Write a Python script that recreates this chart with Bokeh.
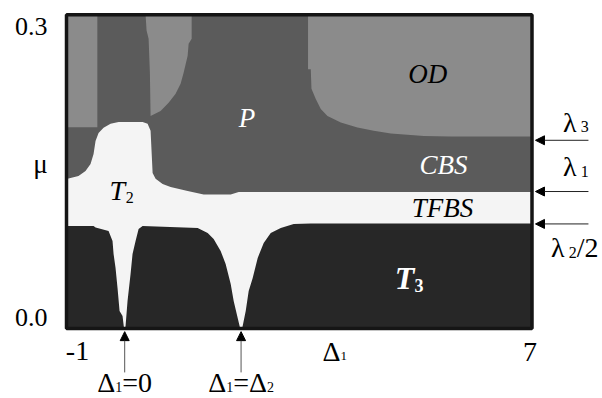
from bokeh.plotting import figure
from bokeh.models import Label, Arrow, NormalHead, Range1d
from bokeh.embed import file_html
from bokeh.resources import INLINE

# ---- data ----
X_MIN, X_MAX = -1.0, 7.0
MU_MIN, MU_MAX = 0.0, 0.3
DELTA_2 = 2.0
LAMBDA_3 = 0.18
LAMBDA_1 = 0.131
LAMBDA_2_HALF = 0.1

# upper edge of the T3 region
t3_delta = [-1.0, -0.535, -0.50, -0.277, -0.209, -0.191, -0.157, -0.123, -0.088, -0.037,
            -0.011, 0.006, 0.015, 0.049, 0.101, 0.135, 0.187, 0.239, 0.308, 1.254, 1.426,
            1.529, 1.649, 1.735, 1.822, 1.873, 1.942, 1.985, 2.019, 2.08, 2.131, 2.2, 2.286,
            2.389, 2.51, 2.682, 2.905, 3.198, 7.0]
t3_mu = [0.098, 0.098, 0.0965, 0.0933, 0.0837, 0.0713, 0.0579, 0.0388, 0.0167, 0.012,
         0.0, 0.0, 0.0024, 0.0263, 0.0522, 0.0713, 0.0837, 0.0952, 0.098, 0.0962, 0.0914,
         0.0856, 0.0742, 0.0617, 0.0426, 0.0263, 0.010, 0.0, 0.0, 0.0167, 0.0359, 0.0483, 0.0675,
         0.0818, 0.0914, 0.0962, 0.100, 0.1005, 0.1003]

# upper edge of the T2 / TFBS region
light_delta = [-1.0, -0.794, -0.673, -0.587, -0.535, -0.501, -0.449, -0.363, -0.243, -0.105,
               0.308, 0.394, 0.445, 0.48, 0.531, 0.652, 0.789, 1.082, 1.357, 1.822, 1.959, 7.0]
light_mu = [0.143, 0.1459, 0.1507, 0.1574, 0.167, 0.1794, 0.187, 0.1919, 0.1957, 0.1976,
            0.1976, 0.1957, 0.189, 0.1488, 0.1431, 0.1383, 0.1354, 0.1316, 0.1282, 0.1282, 0.1306, 0.1306]

# OD regions
od_left_delta = [-1.0, -0.47, -0.47, -1.0]
od_left_mu = [0.3, 0.3, 0.1925, 0.1925]
od_mid_delta = [0.359, 0.376, 0.411, 0.433, 0.445, 0.617, 0.755, 0.875, 0.961, 1.013,
                1.082, 1.099, 1.151, 1.151]
od_mid_mu = [0.3, 0.285, 0.277, 0.2445, 0.2033, 0.2081, 0.2158, 0.2244, 0.234, 0.2445,
             0.2608, 0.2722, 0.277, 0.3]
od_right_delta = [3.151, 3.151, 3.198, 3.21, 3.284, 3.37, 3.485, 3.714, 4.0, 4.28, 4.574,
                  5.142, 5.606, 7.0, 7.0]
od_right_mu = [0.3, 0.248, 0.248, 0.2292, 0.2196, 0.21, 0.2033, 0.197, 0.1922, 0.189, 0.1864,
               0.1842, 0.1835, 0.1835, 0.3]

C_T3 = "#272727"
C_LIGHT = "#f4f4f4"
C_P = "#5b5b5b"
C_OD = "#8b8b8b"
C_BORDER = "#151515"
FONT = "Liberation Serif"
BASE_FIX = 0.39   # baseline correction, in em

# the frame fills the canvas; the diagram box is drawn inside it so that
# the outer texts and arrows are never clipped
p = figure(width=602, height=398, output_backend="svg", toolbar_location=None,
           x_axis_type=None, y_axis_type=None,
           x_range=Range1d(-2.1343, 8.2116), y_range=Range1d(-0.06694, 0.31368),
           min_border=0)
p.background_fill_color = "white"
p.border_fill_color = "white"
p.outline_line_color = None

p.quad(left=[X_MIN], right=[X_MAX], bottom=[MU_MIN], top=[MU_MAX], fill_color=C_P, line_color=None)
for xs, ys in [(od_left_delta, od_left_mu), (od_mid_delta, od_mid_mu), (od_right_delta, od_right_mu)]:
    p.patch(xs, ys, fill_color=C_OD, line_color=None)
p.patch(light_delta + [X_MAX, X_MIN], light_mu + [MU_MIN, MU_MIN], fill_color=C_LIGHT, line_color=None)
p.patch(t3_delta + [X_MAX, X_MIN], t3_mu + [MU_MIN, MU_MIN], fill_color=C_T3, line_color=None)
p.quad(left=[X_MIN], right=[X_MAX], bottom=[MU_MIN], top=[MU_MAX], fill_color=None,
       line_color=C_BORDER, line_width=3.5)


def lab(x, y, text, size, xo=0, yo=0, align="left", color="black", style="normal"):
    p.add_layout(Label(x=x, y=y, x_offset=xo, y_offset=yo + BASE_FIX * size, text=text,
                       text_font=FONT, text_font_size=f"{size}px", text_align=align,
                       text_baseline="alphabetic", text_color=color, text_font_style=style))


def compose(x, y, parts, xo=0, yo=0, align="left", color="black", style="normal"):
    # parts: (text, size, dy, width_em, style)
    total = sum(s * w for _, s, _, w, _ in parts)
    cur = xo - (total / 2 if align == "center" else 0)
    base = parts[0][1]
    for t, s, dy, w, st in parts:
        lab(x, y, t, s, xo=cur, yo=yo + dy + BASE_FIX * (base - s), color=color, style=st or style)
        cur += s * w


# region labels
lab(5.21, 0.233, "OD", 27, align="center", style="italic")
lab(2.10, 0.1911, "P", 27, align="center", color="white", style="italic")
lab(5.48, 0.1459, "CBS", 27, align="center", color="white", style="italic")
lab(5.46, 0.1048, "TFBS", 27, align="center", style="italic")
compose(-0.26, 0.122, [("T", 28, 0, 0.58, "italic"), ("2", 16, -7, 0.5, "normal")])
compose(4.64, 0.0359, [("T", 32, 0, 0.62, "bold italic"), ("3", 18, -7, 0.5, "bold")], color="white")

# y axis texts
lab(X_MIN, MU_MAX, "0.3", 26, xo=-19, yo=-22, align="right")
lab(X_MIN, MU_MIN, "0.0", 26, xo=-19, yo=1, align="right")
lab(X_MIN, (MU_MIN + MU_MAX) / 2, "μ", 27, xo=-26, yo=-3, align="center")

# x axis texts
lab(X_MIN, MU_MIN, "-1", 28, xo=11, yo=-33, align="center")
lab(X_MAX, MU_MIN, "7", 28, xo=-2, yo=-34, align="center")
compose(3.40, MU_MIN, [("Δ", 28, 0, 0.64, None), ("1", 13, -4, 0.5, None)], yo=-34)

# bottom markers
for xm, parts in [(0.0, [("Δ", 28, 0, 0.64, None), ("1", 14, -4, 0.5, None), ("=0", 28, 0, 1.064, None)]),
                  (DELTA_2, [("Δ", 28, 0, 0.64, None), ("1", 14, -4, 0.5, None), ("=", 28, 0, 0.564, None),
                             ("Δ", 28, 0, 0.64, None), ("2", 14, -4, 0.5, None)])]:
    p.add_layout(Arrow(x_start=xm, y_start=-0.042, x_end=xm, y_end=-0.003,
                       line_color="#555555", line_width=1,
                       end=NormalHead(size=9, fill_color="black", line_color="black")))
    compose(xm, MU_MIN, parts, yo=-65, align="center")

# right markers
for lv, parts, xo, yo in [(LAMBDA_3, [("λ", 28, 0, 0.63, None), ("3", 16, -4, 0.5, None)], 31, 7),
                          (LAMBDA_1, [("λ", 28, 0, 0.63, None), ("1", 16, -5, 0.5, None)], 31, 14),
                          (LAMBDA_2_HALF, [("λ", 28, 0, 0.63, None), ("2", 16, -5, 0.5, None),
                                           ("/2", 28, 0, 0.778, None)], 19, -34)]:
    p.add_layout(Arrow(x_start=X_MAX + 0.97, y_start=lv, x_end=X_MAX + 0.06, y_end=lv,
                       line_color="#222222", line_width=1,
                       end=NormalHead(size=9, fill_color="black", line_color="black")))
    compose(X_MAX, lv, parts, xo=xo, yo=yo)

open("out.html", "w").write(file_html(p, INLINE))
